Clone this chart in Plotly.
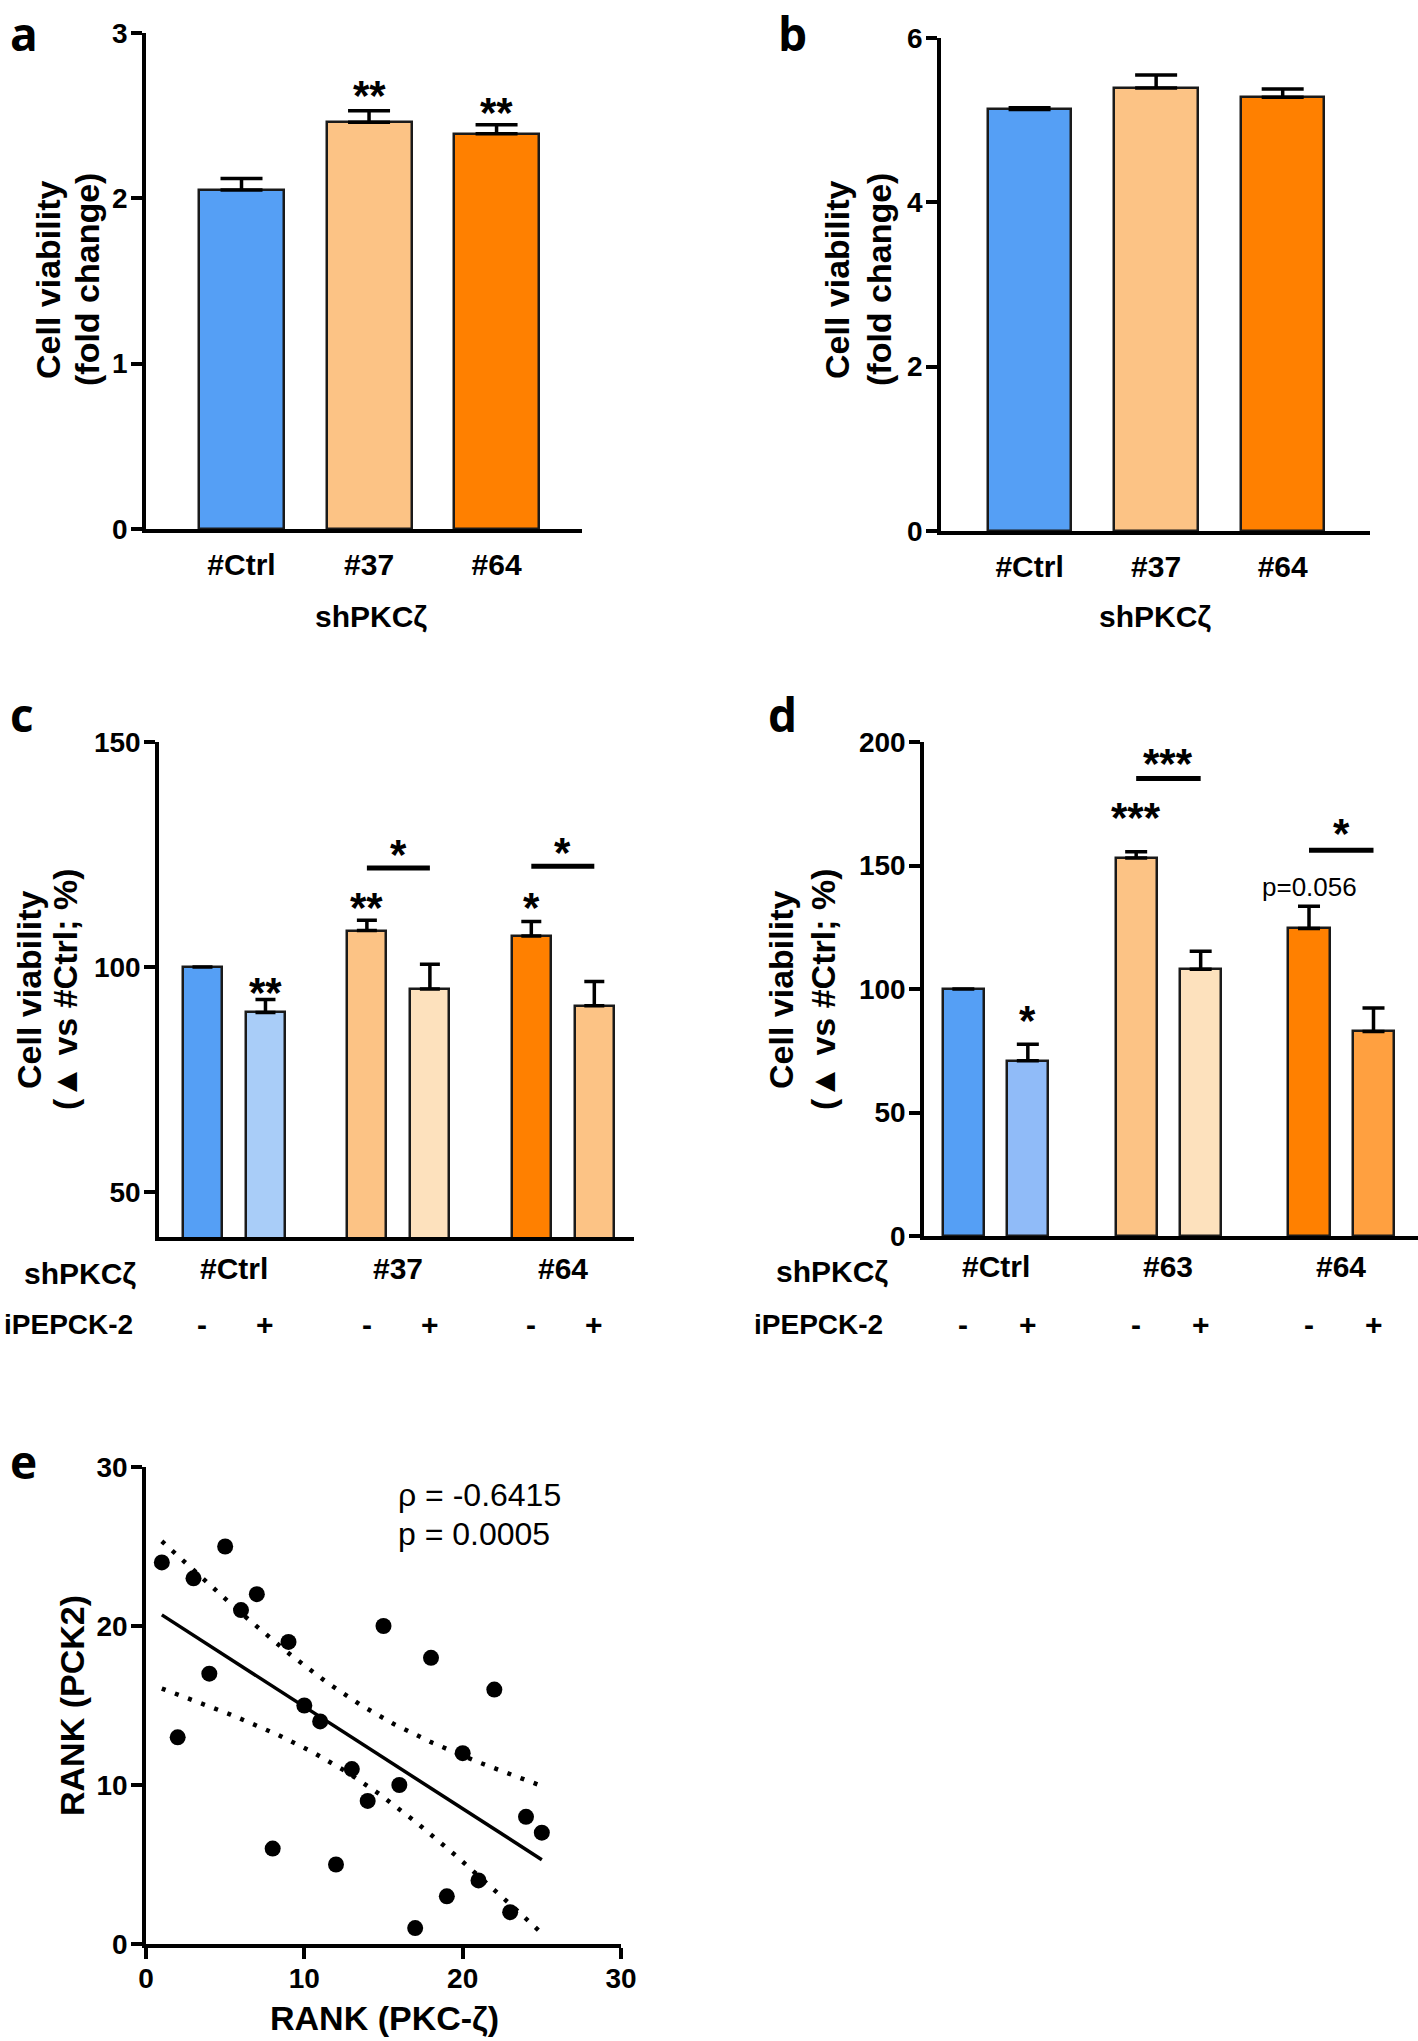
import numpy as np
import plotly.graph_objects as go

W, H = 1418, 2041
FONT = "Liberation Sans, Arial, sans-serif"
LETTER_FONT = "Open Sans, Liberation Sans, sans-serif"

# ---------------- data ----------------
# panel a
a_categories = ["#Ctrl", "#37", "#64"]
a_means = [2.05, 2.46, 2.39]
a_sem = [0.07, 0.07, 0.055]
a_stars = ["", "**", "**"]
a_star_y = [None, 2.67, 2.57]
a_colors = ["#559ff5", "#fcc385", "#ff8000"]

# panel b
b_categories = ["#Ctrl", "#37", "#64"]
b_means = [5.13, 5.39, 5.28]
b_sem = [0.02, 0.16, 0.10]
b_colors = ["#559ff5", "#fcc385", "#ff8000"]

# panel c
c_groups = ["#Ctrl", "#37", "#64"]
c_treat = ["-", "+"]
c_means = [100, 89.9, 108.1, 95.1, 106.9, 91.4]
c_sem = [0, 2.9, 2.3, 5.5, 3.2, 5.4]
c_stars = ["", "**", "**", "", "*", ""]
c_star_y = [None, 96.2, 115.0, None, 115.0, None]
c_brackets = [(2, 3, 122.0, "*", 126.8), (4, 5, 122.4, "*", 127.2)]
c_colors = ["#559ff5", "#a9cdf8", "#fcc385", "#fde1bd", "#ff8000", "#fcc385"]

# panel d
d_groups = ["#Ctrl", "#63", "#64"]
d_treat = ["-", "+"]
d_means = [100, 71.0, 153.0, 108.0, 124.5, 82.8]
d_sem = [0, 6.6, 2.6, 7.3, 9.0, 9.5]
d_stars = ["", "*", "***", "", "p=0.056", ""]
d_star_y = [None, 90.3, 172.5, None, 141.4, None]
d_brackets = [(2, 3, 185.2, "***", 194.7), (4, 5, 156.2, "*", 166.2)]
d_colors = ["#559ff5", "#90bbf8", "#fcc385", "#fde1bd", "#ff8000", "#ffa040"]

# panel e (ranks)
e_rank_pkc = [1, 2, 3, 4, 5, 6, 7, 8, 9, 10, 11, 12, 13, 14, 15, 16, 17, 18, 19, 20, 21, 22, 23, 24, 25]
e_rank_pck2 = [24, 13, 23, 17, 25, 21, 22, 6, 19, 15, 14, 5, 11, 9, 20, 10, 1, 18, 3, 12, 4, 16, 2, 8, 7]
e_rho_text = "ρ = -0.6415"
e_p_text = "p = 0.0005"
T_CRIT = 2.069  # t(0.975, df=23)

# ---------------- helpers ----------------
def px_x(px):
    return px / W


def px_y(py):
    return 1 - py / H


def tfont(size=28, weight="bold", family=FONT):
    return dict(family=family, size=size, color="black", weight=weight)


TICK = 28
LABEL = 30
TITLE = 34
STAR = 42
STAR_SHIFT = -8


def yaxis(dom, rng, tickvals, anchor):
    return dict(domain=[px_y(dom[1]), px_y(dom[0])], range=rng, tickvals=tickvals,
                ticks="outside", ticklen=11, tickwidth=3.5, tickcolor="black",
                showline=True, linewidth=3.5, linecolor="black", showgrid=False,
                zeroline=False, tickfont=tfont(TICK), anchor=anchor, fixedrange=True,
                automargin=False, ticklabelstandoff=-2)


def xaxis(dom, rng, anchor, tickvals=None, ticktext=None, show=False):
    d = dict(domain=[px_x(dom[0]), px_x(dom[1])], range=rng, showline=True,
             linewidth=3.5, linecolor="black", showgrid=False, zeroline=False,
             anchor=anchor, fixedrange=True, ticks="", automargin=False)
    if show:
        d.update(tickvals=tickvals, ticktext=ticktext, showticklabels=True,
                 tickfont=tfont(LABEL), ticklabelstandoff=6)
    else:
        d.update(showticklabels=False)
    return d


fig = go.Figure()
annotations = []
shapes = []

BAR_LINE = dict(color="#1a1a1a", width=2.5)


def err(arr, w):
    return dict(type="data", array=arr, arrayminus=[0] * len(arr), symmetric=False,
                color="black", thickness=3.5, width=w)


# ---------------- panel a ----------------
a_x = list(range(len(a_categories)))
fig.add_trace(go.Bar(x=a_x, y=a_means, width=0.667, marker=dict(color=a_colors, line=BAR_LINE),
                     error_y=err(a_sem, 21), xaxis="x", yaxis="y", showlegend=False))
for xi, s, sy in zip(a_x, a_stars, a_star_y):
    if s:
        annotations.append(dict(x=xi, y=sy, xref="x", yref="y", text=s, showarrow=False,
                                font=tfont(STAR), yshift=STAR_SHIFT))

# ---------------- panel b ----------------
b_x = list(range(len(b_categories)))
fig.add_trace(go.Bar(x=b_x, y=b_means, width=0.66, marker=dict(color=b_colors, line=BAR_LINE),
                     error_y=err(b_sem, 21), xaxis="x2", yaxis="y2", showlegend=False))

# ---------------- panel c ----------------
C_STEP = 2.61
c_x = [g * C_STEP + t for g in range(len(c_groups)) for t in range(len(c_treat))]
fig.add_trace(go.Bar(x=c_x, y=c_means, width=0.62, marker=dict(color=c_colors, line=BAR_LINE),
                     error_y=err(c_sem, 10), xaxis="x3", yaxis="y3", showlegend=False))

# ---------------- panel d ----------------
D_STEP = 2.68
d_x = [g * D_STEP + t for g in range(len(d_groups)) for t in range(len(d_treat))]
fig.add_trace(go.Bar(x=d_x, y=d_means, width=0.64, marker=dict(color=d_colors, line=BAR_LINE),
                     error_y=err(d_sem, 11), xaxis="x4", yaxis="y4", showlegend=False))


def grouped_annotations(xs, stars, star_y, brackets, groups, treat, xr, yr, label_py, sign_py,
                        sh_px, ip_px):
    for xi, s, sy in zip(xs, stars, star_y):
        if s:
            bold = not s.startswith("p=")
            annotations.append(dict(x=xi, y=sy, xref=xr, yref=yr, text=s, showarrow=False,
                                    font=tfont(STAR if bold else 26, "bold" if bold else "normal"),
                                    yshift=STAR_SHIFT if bold else 0))
    for i0, i1, by, s, sy in brackets:
        shapes.append(dict(type="line", xref=xr, yref=yr, x0=xs[i0], x1=xs[i1], y0=by, y1=by,
                           line=dict(color="black", width=5)))
        annotations.append(dict(x=(xs[i0] + xs[i1]) / 2, y=sy, xref=xr, yref=yr, text=s,
                                showarrow=False, font=tfont(STAR), yshift=STAR_SHIFT))
    nt = len(treat)
    for gi, g in enumerate(groups):
        mid = (xs[gi * nt] + xs[gi * nt + nt - 1]) / 2
        annotations.append(dict(x=mid, y=px_y(label_py), xref=xr, yref="paper", text=g,
                                showarrow=False, font=tfont(LABEL), yanchor="middle"))
        for ti, t in enumerate(treat):
            annotations.append(dict(x=xs[gi * nt + ti], y=px_y(sign_py), xref=xr, yref="paper",
                                    text=t, showarrow=False, font=tfont(LABEL), yanchor="middle"))
    annotations.append(dict(x=px_x(sh_px), y=px_y(label_py + 5), xref="paper", yref="paper",
                            text="shPKCζ", showarrow=False, font=tfont(LABEL), xanchor="left",
                            yanchor="middle"))
    annotations.append(dict(x=px_x(ip_px), y=px_y(sign_py), xref="paper", yref="paper",
                            text="iPEPCK-2", showarrow=False, font=tfont(28), xanchor="left",
                            yanchor="middle"))


grouped_annotations(c_x, c_stars, c_star_y, c_brackets, c_groups, c_treat, "x3", "y3",
                    1268, 1324, 22, 2)
grouped_annotations(d_x, d_stars, d_star_y, d_brackets, d_groups, d_treat, "x4", "y4",
                    1266, 1324, 774, 752)

# ---------------- panel e ----------------
ex = np.array(e_rank_pkc, dtype=float)
ey = np.array(e_rank_pck2, dtype=float)
slope, intercept = np.polyfit(ex, ey, 1)
n = len(ex)
resid = ey - (slope * ex + intercept)
s_err = np.sqrt(np.sum(resid ** 2) / (n - 2))
xbar = ex.mean()
sxx = np.sum((ex - xbar) ** 2)
xg = np.linspace(ex.min(), ex.max(), 200)
yg = slope * xg + intercept
half = T_CRIT * s_err * np.sqrt(1 / n + (xg - xbar) ** 2 / sxx)

for band in (yg + half, yg - half):
    fig.add_trace(go.Scatter(x=xg, y=band, mode="lines", xaxis="x5", yaxis="y5",
                             line=dict(color="black", width=4.5, dash="4px,10px"),
                             showlegend=False, hoverinfo="skip"))
fig.add_trace(go.Scatter(x=xg, y=yg, mode="lines", xaxis="x5", yaxis="y5",
                         line=dict(color="black", width=3.5), showlegend=False))
fig.add_trace(go.Scatter(x=ex, y=ey, mode="markers", xaxis="x5", yaxis="y5",
                         marker=dict(color="black", size=16), showlegend=False))

annotations.append(dict(x=px_x(396), y=px_y(1495), xref="paper", yref="paper", text=e_rho_text,
                        showarrow=False, font=tfont(32, "normal"), xanchor="left", yanchor="middle"))
annotations.append(dict(x=px_x(396), y=px_y(1534), xref="paper", yref="paper", text=e_p_text,
                        showarrow=False, font=tfont(32, "normal"), xanchor="left", yanchor="middle"))

# ---------------- axis titles & labels ----------------
def vtitle(text, cx, cy, size=TITLE):
    annotations.append(dict(x=px_x(cx), y=px_y(cy), xref="paper", yref="paper", text=text,
                            textangle=-90, showarrow=False, font=tfont(size),
                            xanchor="center", yanchor="middle"))


def htext(text, cx, cy, size=LABEL, weight="bold"):
    annotations.append(dict(x=px_x(cx), y=px_y(cy), xref="paper", yref="paper", text=text,
                            showarrow=False, font=tfont(size, weight),
                            xanchor="center", yanchor="middle"))


vtitle("Cell viability", 48, 280)
vtitle("(fold change)", 87, 280)
vtitle("Cell viability", 837, 280)
vtitle("(fold change)", 879, 280)
vtitle("Cell viability", 29, 990)
vtitle("(▲ vs #Ctrl; %)", 65, 990)
vtitle("Cell viability", 781, 990)
vtitle("(▲ vs #Ctrl; %)", 823, 990)
vtitle("RANK (PCK2)", 72, 1706, TITLE)
htext("shPKCζ", 371, 616)
htext("shPKCζ", 1155, 616)
htext("RANK (PKC-ζ)", 384, 2018, TITLE)

LETTER = dict(family=LETTER_FONT, size=46, color="black", weight="bold")
for letter, lx in [("a", 8), ("b", 776)]:
    annotations.append(dict(x=px_x(lx), y=1.0, xref="paper", yref="paper", text=letter,
                            showarrow=False, font=LETTER, xanchor="left", yanchor="top"))
for letter, lx, ly in [("c", 8, 714), ("d", 766, 714), ("e", 8, 1461)]:
    annotations.append(dict(x=px_x(lx), y=px_y(ly), xref="paper", yref="paper", text=letter,
                            showarrow=False, font=LETTER, xanchor="left", yanchor="middle"))

# ---------------- layout ----------------
fig.update_layout(
    template="none",
    width=W, height=H, margin=dict(l=0, r=0, t=0, b=0, pad=0, autoexpand=False),
    paper_bgcolor="white", plot_bgcolor="white", bargap=0,
    font=tfont(TICK),
    xaxis=xaxis((146, 582), [-0.749, 2.67], "y", a_x, a_categories, True),
    yaxis=yaxis((33, 529), [0, 3], [0, 1, 2, 3], "x"),
    xaxis2=xaxis((941, 1370), [-0.70, 2.69], "y2", b_x, b_categories, True),
    yaxis2=yaxis((38, 531), [0, 6], [0, 2, 4, 6], "x2"),
    xaxis3=xaxis((159, 634), [-0.69, 6.85], "y3"),
    yaxis3=yaxis((742, 1237), [40, 150], [50, 100, 150], "x3"),
    xaxis4=xaxis((924, 1418), [-0.61, 7.05], "y4"),
    yaxis4=yaxis((742, 1236), [0, 200], [0, 50, 100, 150, 200], "x4"),
    xaxis5=dict(domain=[px_x(146), px_x(621)], range=[0, 30], tickvals=[0, 10, 20, 30],
                ticks="outside", ticklen=11, tickwidth=3.5, tickcolor="black", showline=True,
                linewidth=3.5, linecolor="black", showgrid=False, zeroline=False,
                tickfont=tfont(TICK), anchor="y5", fixedrange=True, automargin=False,
                ticklabelstandoff=-4),
    yaxis5=yaxis((1467, 1944), [0, 30], [0, 10, 20, 30], "x5"),
    annotations=annotations,
    shapes=shapes,
)

fig.write_html("out.html", config={"displayModeBar": False},
               post_script="document.body.style.margin='0';document.body.style.padding='0';")
